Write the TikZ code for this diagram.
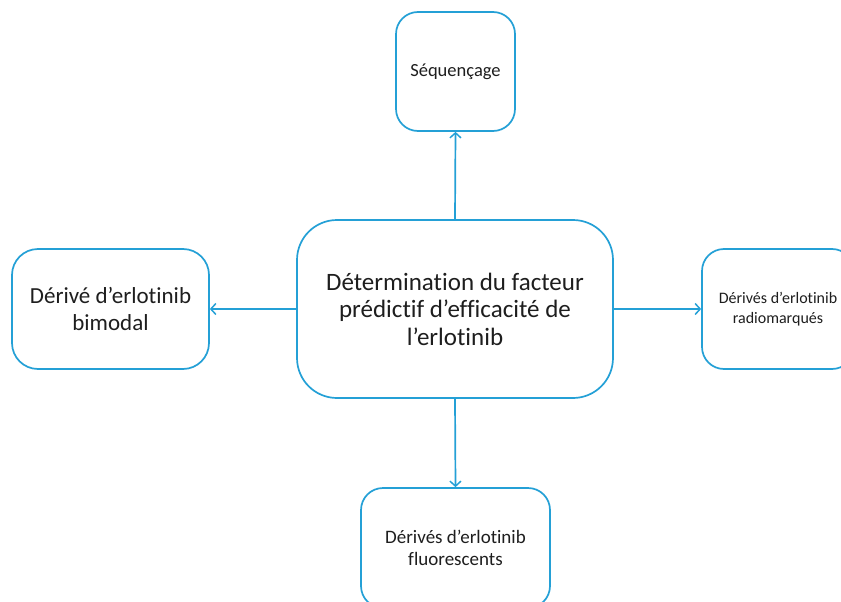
\documentclass[tikz,border=0pt]{standalone}
\usepackage{fontspec}
\setmainfont{Carlito}[Ligatures=NoCommon]
\usetikzlibrary{arrows.meta,positioning}
\definecolor{boxblue}{RGB}{36,160,214}
\definecolor{txtgray}{RGB}{30,30,30}

\begin{document}
\begin{tikzpicture}[
                x=1pt, y=-1pt,
                box/.style={rectangle, draw=boxblue, line width=1.7pt, rounded corners=22pt, fill=white, text=txtgray, align=center, inner sep=0pt},
                link/.style={-{Straight Barb[length=5pt,width=11pt,line width=1.5pt]}, draw=boxblue, line width=1.7pt},
            ]
            \useasboundingbox (0,0) rectangle (841,602);
            \node[box, rounded corners=40pt, minimum width=316pt, minimum height=178pt,
                font=\fontsize{25}{27.5}\selectfont] (facteur) at (455,309)
            {Détermination du facteur\\
                prédictif d’efficacité de\\
                l’erlotinib};
            \node[box, minimum width=119pt, minimum height=119pt,
                font=\fontsize{18.5}{22}\selectfont] (sequencage) at (455.5,71.5)
            {Séquençage};
            \node[box, rounded corners=26pt, minimum width=197pt, minimum height=120pt,
                font=\fontsize{23}{27}\selectfont] (bimodal) at (110.5,309)
            {Dérivé d’erlotinib\\bimodal};
            \node[box, minimum width=152pt, minimum height=120pt,
                font=\fontsize{16}{19.5}\selectfont] (radio) at (778,309)
            {Dérivés d’erlotinib\\radiomarqués};
            \node[box, minimum width=189pt, minimum height=120pt,
                font=\fontsize{19}{22}\selectfont] (fluo) at (455.5,548)
            {Dérivés d’erlotinib\\fluorescents};

            \draw[link] (facteur.north) -- (sequencage.south);
            \draw[link] (facteur.west) -- (bimodal.east);
            \draw[link] (facteur.east) -- (radio.west);
            \draw[link] (facteur.south) -- (fluo.north);
        \end{tikzpicture}
\end{document}
